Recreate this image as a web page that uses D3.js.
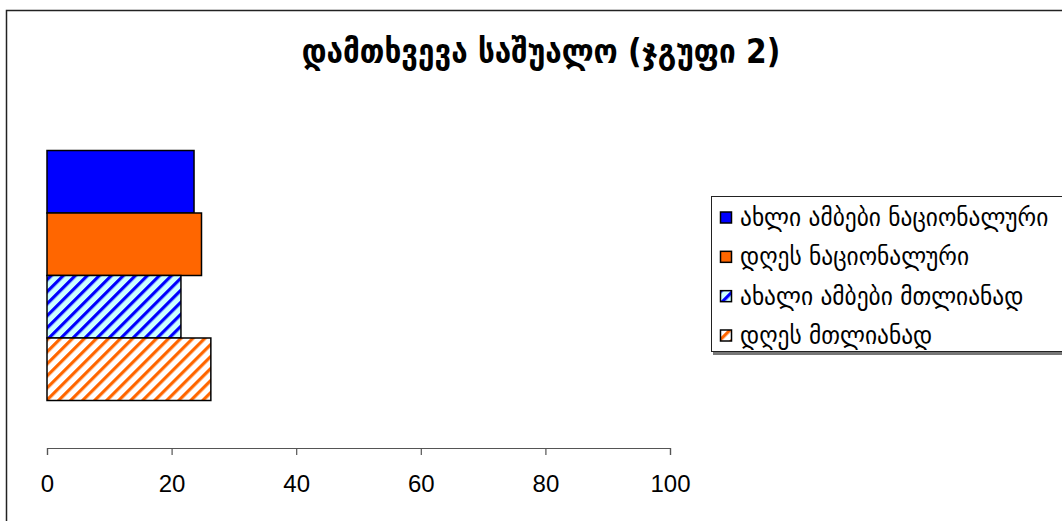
<!DOCTYPE html>
<html><head><meta charset="utf-8">
<script src="https://cdn.jsdelivr.net/npm/d3@7"></script>
<style>html,body{margin:0;padding:0;background:#fff;overflow:hidden}</style>
</head><body>
<svg id="c" width="1062" height="521"></svg>
<script>
const title = "დამთხვევა საშუალო (ჯგუფი 2)";
const categories = ["ჯგუფი 2"];
const seriesNames = ["ახლი ამბები ნაციონალური", "დღეს ნაციონალური", "ახალი ამბები მთლიანად", "დღეს მთლიანად"];
const seriesValues = [23.6, 24.8, 21.5, 26.3];
const tickValues = [0, 20, 40, 60, 80, 100];

const styles = [
  {fill: "#0000ff"},
  {fill: "#ff6600"},
  {pattern: "hatchBlue", bg: "#ccffff", stripe: "#0000ff"},
  {pattern: "hatchOrange", bg: "#ffffff", stripe: "#ff6600"}
];

const svg = d3.select("#c");
const defs = svg.append("defs");
styles.forEach(s => {
  if (!s.pattern) return;
  const p = defs.append("pattern").attr("id", s.pattern)
    .attr("patternUnits", "userSpaceOnUse").attr("width", 8.5).attr("height", 8.5)
    .attr("patternTransform", "rotate(45)");
  p.append("rect").attr("width", 8.5).attr("height", 8.5).attr("fill", s.bg);
  p.append("rect").attr("x", 0).attr("width", 3.2).attr("height", 8.5).attr("fill", s.stripe);
});
const fillOf = i => styles[i].pattern ? `url(#${styles[i].pattern})` : styles[i].fill;

// frame
svg.append("rect").attr("x", 6.5).attr("y", 10.5).attr("width", 1100).attr("height", 600)
  .attr("fill", "none").attr("stroke", "#222").attr("stroke-width", 1.5);

// title
svg.append("text").attr("x", 541).attr("y", 63).attr("text-anchor", "middle")
  .attr("font-family", "DejaVu Sans Condensed, DejaVu Sans").attr("font-weight", "bold")
  .attr("font-size", 33).attr("fill", "#000").text(title);

const x = d3.scaleLinear().domain([0, 100]).range([47, 670]);
const yCat = d3.scaleBand().domain(categories).range([103, 448]).paddingOuter(0.19).paddingInner(0);
const ySer = d3.scaleBand().domain(seriesNames).range([0, yCat.bandwidth()]);

const g = svg.append("g");
categories.forEach(cat => {
  g.selectAll("rect.bar").data(seriesValues).enter().append("rect")
    .attr("class", "bar")
    .attr("x", x(0))
    .attr("y", (d, i) => yCat(cat) + ySer(seriesNames[i]))
    .attr("width", d => x(d) - x(0))
    .attr("height", ySer.bandwidth())
    .attr("fill", (d, i) => fillOf(i))
    .attr("stroke", "#000").attr("stroke-width", 1.5);
});

// axis
const axis = d3.axisBottom(x).tickValues(tickValues).tickSize(7).tickSizeOuter(7).tickPadding(20);
const ag = svg.append("g").attr("transform", "translate(0,448)").call(axis);
ag.select(".domain").attr("stroke", "#555").attr("stroke-width", 1.2);
ag.selectAll(".tick line").attr("stroke", "#555").attr("stroke-width", 1.2);
ag.selectAll(".tick text").attr("font-family", "Liberation Sans, Arial, sans-serif")
  .attr("font-size", 24).attr("fill", "#000");

// legend
const lg = svg.append("g");
lg.append("rect").attr("x", 713).attr("y", 198).attr("width", 400).attr("height", 157).attr("fill", "#777");
lg.append("rect").attr("x", 711.5).attr("y", 196.5).attr("width", 400).attr("height", 155)
  .attr("fill", "#fff").attr("stroke", "#222").attr("stroke-width", 1);
const ly = d3.scalePoint().domain(seriesNames).range([218, 336]);
seriesNames.forEach((n, i) => {
  lg.append("rect").attr("x", 720.5).attr("y", ly(n) - 6).attr("width", 11).attr("height", 11)
    .attr("fill", fillOf(i)).attr("stroke", "#000").attr("stroke-width", 1.5);
  lg.append("text").attr("x", 740).attr("y", ly(n) + 8)
    .attr("font-family", "DejaVu Sans Condensed, DejaVu Sans").attr("font-size", 26)
    .attr("fill", "#000").text(n);
});
</script>
</body></html>
